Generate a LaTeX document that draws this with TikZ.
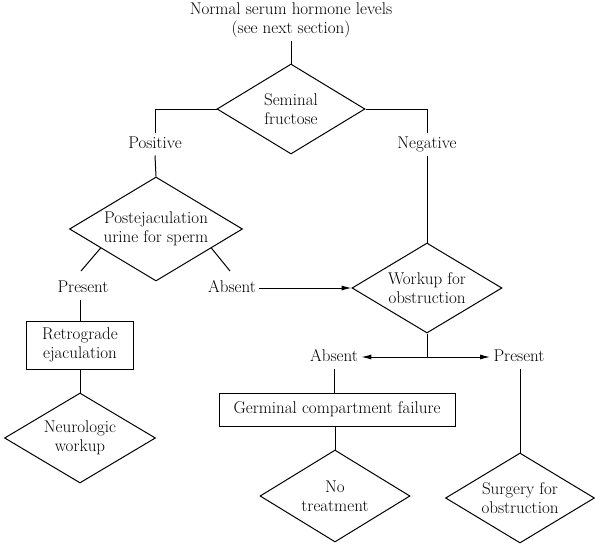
\documentclass[tikz,border=0pt]{standalone}
\usepackage{fontspec}
\usetikzlibrary{shapes.geometric, arrows.meta}

\begin{document}
\begin{tikzpicture}[x=1pt, y=-1pt, >={Latex[length=10pt, width=5pt]}, line width=1pt,
    every node/.style={font=\fontsize{17}{19}\selectfont, align=center, inner sep=3pt},
    decision/.style={diamond, draw, inner sep=0pt, aspect=1.66,
        minimum width=150pt, minimum height=90pt},
    outcome/.style={rectangle, draw},
    answer/.style={text height=12pt, text depth=4pt}]
    % --- FRAME ---
    \useasboundingbox (0,0) rectangle (595,546);

    % --- TOP: fructose test ---
    \node (start) at (291,20) {Normal serum hormone levels\\(see next section)};
    \node[decision, minimum width=148pt] (fructose) at (291,109) {Seminal\\fructose};
    \node[answer] (pos) at (155,144) {Positive};
    \node[answer] (neg) at (427,144) {Negative};

    % --- LEFT BRANCH ---
    \node[decision, minimum width=173pt, minimum height=104pt] (urine) at (156,229)
        {Postejaculation\\urine for sperm};
    \node[answer] (pres1) at (83,288) {Present};
    \node[answer] (abs1) at (232,288) {Absent};
    \coordinate (tickL) at (81,271);
    \coordinate (tickR) at (230,271);
    \node[outcome, minimum width=107pt, minimum height=48pt] (retro) at (80,345)
        {Retrograde\\ejaculation};
    \node[decision, minimum width=151pt] (neuro) at (80,438) {Neurologic\\workup};

    % --- RIGHT BRANCH ---
    \node[decision] (workup) at (427,288) {Workup for\\obstruction};
    \coordinate (split) at (427,357);
    \node[answer] (abs2) at (334,357) {Absent};
    \node[answer] (pres2) at (519,357) {Present};
    \node[outcome, minimum width=236pt, minimum height=33pt] (germ) at (337,409.5)
        {Germinal compartment failure};
    \node[decision, minimum height=92pt] (notreat) at (335,496) {No\\treatment};
    \node[decision, minimum width=149pt] (surgery) at (520,498) {Surgery for\\obstruction};

    % --- CONNECTORS ---
    \draw (start.south) -- (fructose.north);
    \draw (fructose.west) -| (pos.north);
    \draw (pos.south) -- (urine.north);
    \draw (fructose.east) -| (neg.north);
    \draw (neg.south) -- (workup.north);
    \draw (urine.199) -- (tickL);
    \draw (urine.341) -- (tickR);
    \draw[->] (abs1.east) -- (workup.west);
    \draw (retro.north |- pres1.south) -- (retro.north);
    \draw (retro.south) -- (neuro.north);
    \draw (workup.south) -- (split);
    \draw[->] (split) -- (abs2.east);
    \draw[->] (split) -- (pres2.west);
    \draw (abs2.south) -- (abs2.south |- germ.north);
    \draw (germ.south -| notreat.north) -- (notreat.north);
    \draw (pres2.south -| surgery.north) -- (surgery.north);
\end{tikzpicture}
\end{document}
